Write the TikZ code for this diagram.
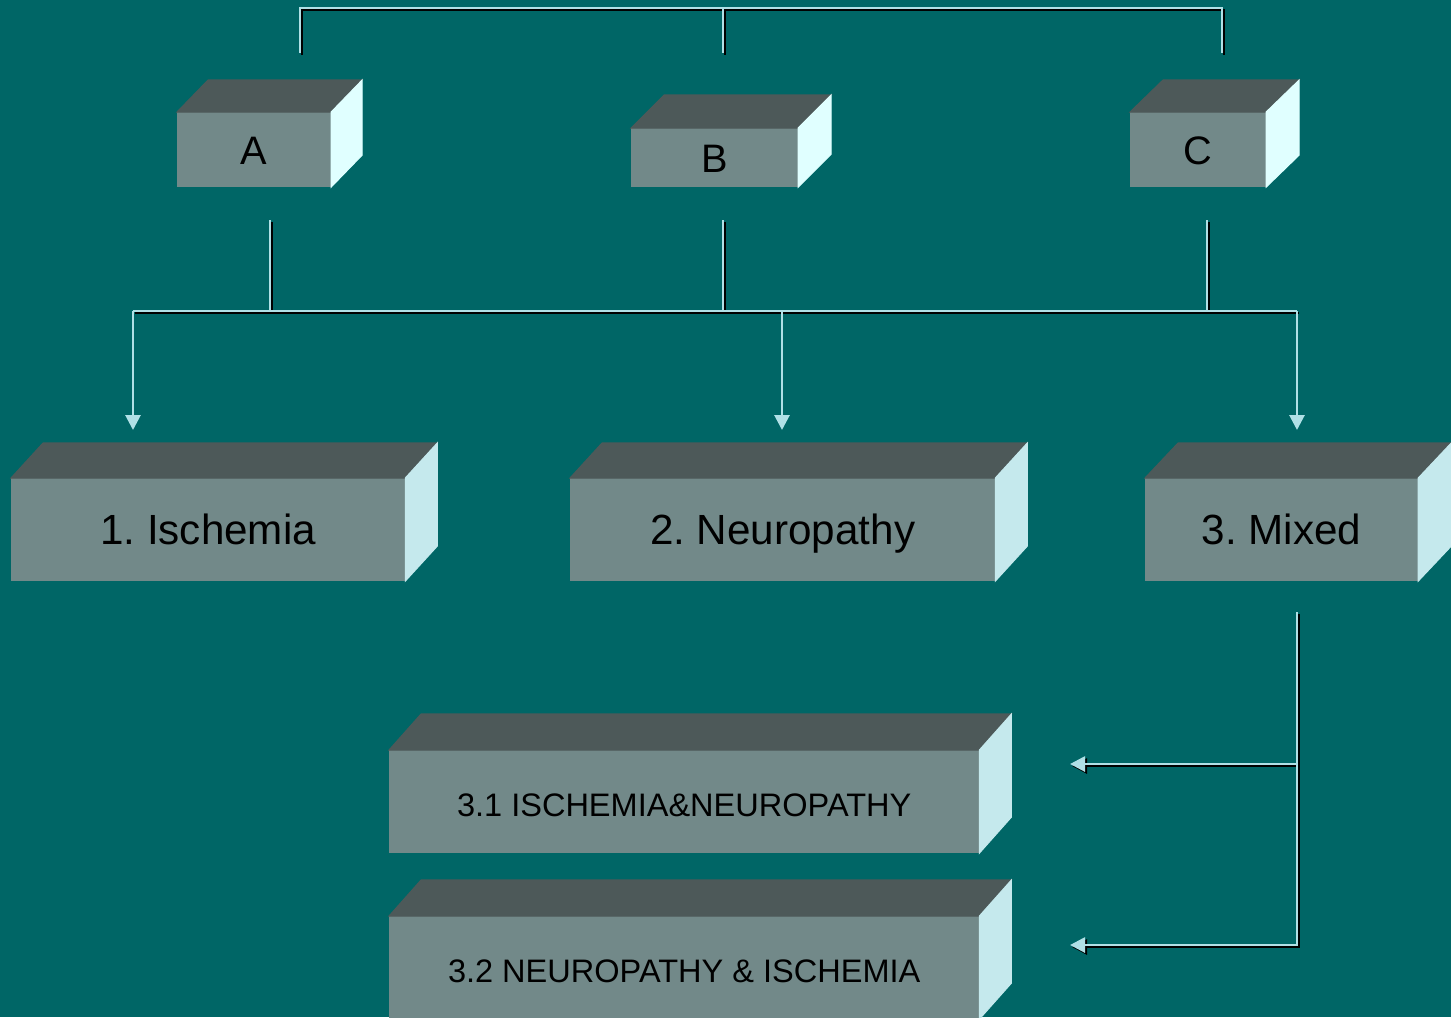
\documentclass[tikz,border=0pt]{standalone}
\usepackage{fontspec}
\setmainfont{Liberation Sans}
\usetikzlibrary{arrows.meta,calc}
\definecolor{bgteal}{HTML}{006666}
\definecolor{facefront}{HTML}{728989}
\definecolor{facetop}{HTML}{4D5959}
\definecolor{sidepale}{HTML}{E0FFFF}
\definecolor{sidecyan}{HTML}{C5E9ED}
\definecolor{linkblue}{HTML}{B0E0E6}
\tikzset{
  block/.style      = {fill=facefront, draw=facefront, line width=0.3pt, inner sep=0pt,
                       anchor=north west, text=black, text height=0.87em, text depth=0pt},
  letterbox/.style  = {block, font=\fontsize{11.3}{13}\selectfont},
  classbox/.style   = {block, font=\fontsize{12}{14}\selectfont},
  subbox/.style     = {block, font=\fontsize{9.25}{11}\selectfont},
  link/.style       = {linkblue, line width=0.8pt},
  linkshadow/.style = {black, line width=0.8pt, transform canvas={xshift=0.57pt, yshift=-0.57pt}},
  headed/.style     = {-{Triangle[length=1.5mm,width=1.5mm]}}
}
% top and side faces of a slab: node, depth x, depth y, side colour
\newcommand\slab[4]{%
  \filldraw[facetop, line width=0.3pt] (#1.north west) -- ++(#2,-#3)
    -- ($(#1.north east)+(#2,-#3)$) -- (#1.north east) -- cycle;
  \filldraw[#4, line width=0.3pt] (#1.north east) -- ++(#2,-#3)
    -- ($(#1.south east)+(#2,-#3)$) -- (#1.south east) -- cycle;}

\begin{document}
\frenchspacing
\begin{tikzpicture}[x=0.01cm,y=-0.01cm]
  \fill[bgteal] (0,0) rectangle (1451,1017);
  \useasboundingbox (0,0) rectangle (1451,1017);
  % first row
  \node[letterbox, minimum width=1.53cm, minimum height=0.74cm] (A) at (177,112) {A};
  \node[letterbox, minimum width=1.66cm, minimum height=0.58cm] (B) at (631,128) {B};
  \node[letterbox, minimum width=1.35cm, minimum height=0.74cm] (C) at (1130,112) {C};
  \slab{A}{31}{32}{sidepale}
  \slab{B}{33}{33}{sidepale}
  \slab{C}{33}{32}{sidepale}
  % second row
  \node[classbox, minimum width=3.93cm, minimum height=1.02cm] (isch) at (11,478) {1. Ischemia};
  \node[classbox, minimum width=4.24cm, minimum height=1.02cm] (neuro) at (570,478) {2. Neuropathy};
  \node[classbox, minimum width=2.72cm, minimum height=1.02cm] (mixed) at (1145,478) {3. Mixed};
  \slab{isch}{32}{35}{sidecyan}
  \slab{neuro}{32}{35}{sidecyan}
  \slab{mixed}{33}{35}{sidecyan}
  % sub-classes of mixed
  \node[subbox, minimum width=5.89cm, minimum height=1.02cm] (mixone) at (389,750) {3.1 ISCHEMIA\&NEUROPATHY};
  \node[subbox, minimum width=5.89cm, minimum height=1.02cm] (mixtwo) at (389,916) {3.2 NEUROPATHY \& ISCHEMIA};
  \slab{mixone}{32}{36}{sidecyan}
  \slab{mixtwo}{32}{36}{sidecyan}

  % connector ends
  \coordinate (aup) at (300,53);  \coordinate (abar) at (300,8);
  \coordinate (bup) at (723,53);  \coordinate (bbar) at (723,8);
  \coordinate (cup) at (1222,53); \coordinate (cbar) at (1222,8);
  \coordinate (adown) at (270,220);  \coordinate (ajoin) at (270,311);
  \coordinate (bdown) at (723,220);  \coordinate (bjoin) at (723,311);
  \coordinate (cdown) at (1207,220); \coordinate (cjoin) at (1207,311);
  \coordinate (ischjoin) at (133,311);  \coordinate (ischin) at (133,430);
  \coordinate (neurojoin) at (782,311); \coordinate (neuroin) at (782,430);
  \coordinate (mixjoin) at (1297,311);  \coordinate (mixin) at (1297,430);
  \coordinate (mixout) at (1297,612);
  \coordinate (onejoin) at (1297,764); \coordinate (onein) at (1070,764);
  \coordinate (twojoin) at (1297,945); \coordinate (twoin) at (1070,945);

  \foreach \sty in {linkshadow,link} {
    \draw[\sty] (aup) -- (abar) -- (cbar) -- (cup);
    \draw[\sty] (bbar) -- (bup);
    \draw[\sty] (adown) -- (ajoin);
    \draw[\sty] (bdown) -- (bjoin);
    \draw[\sty] (cdown) -- (cjoin);
    \draw[\sty] (ischjoin) -- (mixjoin);
    \draw[\sty, headed] (mixout) -- (twojoin) -- (twoin);
    \draw[\sty, headed] (onejoin) -- (onein);
  }
  \draw[link, headed] (ischjoin) -- (ischin);
  \draw[link, headed] (neurojoin) -- (neuroin);
  \draw[link, headed] (mixjoin) -- (mixin);
\end{tikzpicture}
\end{document}
